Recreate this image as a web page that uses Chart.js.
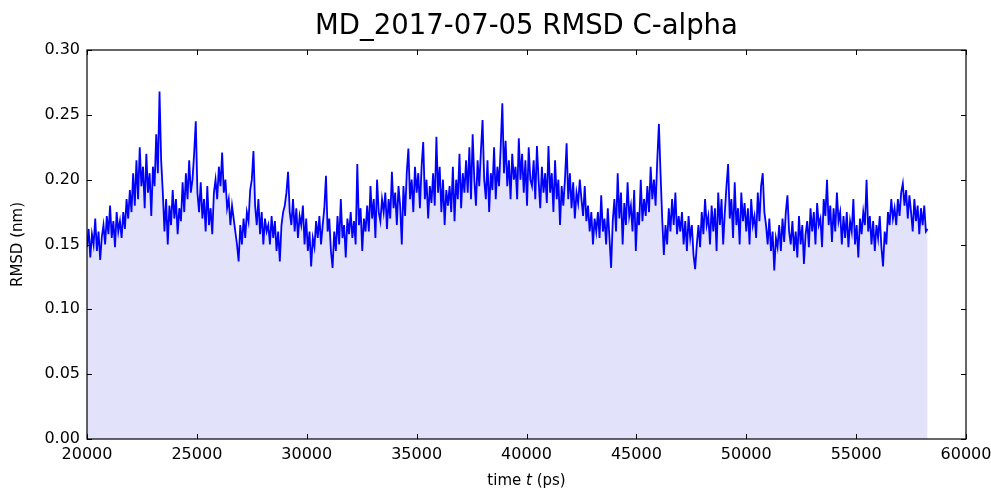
<!DOCTYPE html>
<html>
<head>
<meta charset="utf-8">
<script src="https://cdn.jsdelivr.net/npm/chart.js@4/dist/chart.umd.min.js"></script>
<style>
  html, body { margin: 0; padding: 0; background: #fff; }
  #wrap { width: 991px; height: 489px; }
</style>
</head>
<body>
<div id="wrap"><canvas id="rmsd"></canvas></div>
<script>
// time (ps), one row = 750 ps
var times = [
  20000,20075,20150,20225,20300,20375,20450,20525,20600,20675,
  20750,20825,20900,20975,21050,21125,21200,21275,21350,21425,
  21500,21575,21650,21725,21800,21875,21950,22025,22100,22175,
  22250,22325,22400,22475,22550,22625,22700,22775,22850,22925,
  23000,23075,23150,23225,23300,23375,23450,23525,23600,23675,
  23750,23825,23900,23975,24050,24125,24200,24275,24350,24425,
  24500,24575,24650,24725,24800,24875,24950,25025,25100,25175,
  25250,25325,25400,25475,25550,25625,25700,25775,25850,25925,
  26000,26075,26150,26225,26300,26375,26450,26525,26600,26675,
  26750,26825,26900,26975,27050,27125,27200,27275,27350,27425,
  27500,27575,27650,27725,27800,27875,27950,28025,28100,28175,
  28250,28325,28400,28475,28550,28625,28700,28775,28850,28925,
  29000,29075,29150,29225,29300,29375,29450,29525,29600,29675,
  29750,29825,29900,29975,30050,30125,30200,30275,30350,30425,
  30500,30575,30650,30725,30800,30875,30950,31025,31100,31175,
  31250,31325,31400,31475,31550,31625,31700,31775,31850,31925,
  32000,32075,32150,32225,32300,32375,32450,32525,32600,32675,
  32750,32825,32900,32975,33050,33125,33200,33275,33350,33425,
  33500,33575,33650,33725,33800,33875,33950,34025,34100,34175,
  34250,34325,34400,34475,34550,34625,34700,34775,34850,34925,
  35000,35075,35150,35225,35300,35375,35450,35525,35600,35675,
  35750,35825,35900,35975,36050,36125,36200,36275,36350,36425,
  36500,36575,36650,36725,36800,36875,36950,37025,37100,37175,
  37250,37325,37400,37475,37550,37625,37700,37775,37850,37925,
  38000,38075,38150,38225,38300,38375,38450,38525,38600,38675,
  38750,38825,38900,38975,39050,39125,39200,39275,39350,39425,
  39500,39575,39650,39725,39800,39875,39950,40025,40100,40175,
  40250,40325,40400,40475,40550,40625,40700,40775,40850,40925,
  41000,41075,41150,41225,41300,41375,41450,41525,41600,41675,
  41750,41825,41900,41975,42050,42125,42200,42275,42350,42425,
  42500,42575,42650,42725,42800,42875,42950,43025,43100,43175,
  43250,43325,43400,43475,43550,43625,43700,43775,43850,43925,
  44000,44075,44150,44225,44300,44375,44450,44525,44600,44675,
  44750,44825,44900,44975,45050,45125,45200,45275,45350,45425,
  45500,45575,45650,45725,45800,45875,45950,46025,46100,46175,
  46250,46325,46400,46475,46550,46625,46700,46775,46850,46925,
  47000,47075,47150,47225,47300,47375,47450,47525,47600,47675,
  47750,47825,47900,47975,48050,48125,48200,48275,48350,48425,
  48500,48575,48650,48725,48800,48875,48950,49025,49100,49175,
  49250,49325,49400,49475,49550,49625,49700,49775,49850,49925,
  50000,50075,50150,50225,50300,50375,50450,50525,50600,50675,
  50750,50825,50900,50975,51050,51125,51200,51275,51350,51425,
  51500,51575,51650,51725,51800,51875,51950,52025,52100,52175,
  52250,52325,52400,52475,52550,52625,52700,52775,52850,52925,
  53000,53075,53150,53225,53300,53375,53450,53525,53600,53675,
  53750,53825,53900,53975,54050,54125,54200,54275,54350,54425,
  54500,54575,54650,54725,54800,54875,54950,55025,55100,55175,
  55250,55325,55400,55475,55550,55625,55700,55775,55850,55925,
  56000,56075,56150,56225,56300,56375,56450,56525,56600,56675,
  56750,56825,56900,56975,57050,57125,57200,57275,57350,57425,
  57500,57575,57650,57725,57800,57875,57950,58025,58100,58175,
  58250
];

// RMSD C-alpha (nm)
var rmsd = [
  0.148,0.162,0.140,0.158,0.150,0.170,0.145,0.160,0.138,0.156,
  0.165,0.150,0.172,0.158,0.180,0.155,0.168,0.148,0.175,0.160,
  0.168,0.155,0.175,0.162,0.185,0.170,0.192,0.175,0.205,0.180,
  0.215,0.185,0.225,0.195,0.210,0.178,0.220,0.190,0.205,0.172,
  0.210,0.195,0.235,0.205,0.268,0.215,0.190,0.160,0.185,0.150,
  0.180,0.165,0.192,0.170,0.185,0.158,0.178,0.168,0.198,0.175,
  0.205,0.185,0.215,0.190,0.200,0.220,0.245,0.190,0.175,0.198,
  0.170,0.185,0.160,0.195,0.165,0.178,0.158,0.190,0.200,0.185,
  0.210,0.195,0.221,0.190,0.200,0.178,0.185,0.165,0.180,0.170,
  0.160,0.150,0.137,0.165,0.150,0.170,0.155,0.175,0.168,0.192,
  0.200,0.222,0.180,0.165,0.185,0.158,0.175,0.150,0.170,0.160,
  0.165,0.150,0.172,0.155,0.168,0.145,0.160,0.137,0.165,0.175,
  0.180,0.190,0.206,0.175,0.165,0.185,0.160,0.178,0.155,0.172,
  0.165,0.180,0.150,0.170,0.145,0.160,0.133,0.155,0.148,0.168,
  0.155,0.172,0.150,0.165,0.178,0.203,0.160,0.170,0.145,0.132,
  0.160,0.145,0.172,0.150,0.185,0.155,0.165,0.140,0.170,0.158,
  0.175,0.155,0.168,0.150,0.212,0.165,0.178,0.145,0.170,0.160,
  0.180,0.160,0.195,0.170,0.185,0.155,0.200,0.175,0.168,0.185,
  0.175,0.190,0.162,0.185,0.170,0.206,0.178,0.190,0.165,0.195,
  0.180,0.150,0.195,0.172,0.205,0.224,0.185,0.200,0.175,0.210,
  0.190,0.205,0.178,0.210,0.229,0.185,0.200,0.170,0.195,0.182,
  0.205,0.180,0.233,0.190,0.210,0.175,0.200,0.165,0.192,0.180,
  0.195,0.175,0.210,0.168,0.200,0.185,0.220,0.178,0.205,0.190,
  0.215,0.190,0.225,0.185,0.235,0.200,0.180,0.215,0.195,0.222,
  0.246,0.200,0.185,0.215,0.175,0.205,0.192,0.225,0.185,0.210,
  0.195,0.225,0.259,0.205,0.230,0.195,0.215,0.185,0.220,0.200,
  0.210,0.185,0.232,0.200,0.220,0.190,0.215,0.180,0.225,0.200,
  0.195,0.215,0.185,0.226,0.200,0.178,0.210,0.190,0.205,0.182,
  0.226,0.190,0.205,0.175,0.215,0.185,0.200,0.165,0.195,0.180,
  0.200,0.228,0.185,0.205,0.178,0.198,0.170,0.190,0.182,0.200,
  0.185,0.172,0.195,0.168,0.180,0.160,0.175,0.150,0.170,0.160,
  0.175,0.155,0.188,0.160,0.170,0.150,0.178,0.155,0.132,0.168,
  0.185,0.160,0.205,0.170,0.190,0.150,0.182,0.165,0.198,0.172,
  0.180,0.160,0.192,0.145,0.175,0.165,0.200,0.168,0.185,0.172,
  0.195,0.175,0.210,0.185,0.200,0.180,0.215,0.243,0.205,0.170,
  0.142,0.165,0.150,0.178,0.160,0.185,0.165,0.190,0.158,0.172,
  0.160,0.175,0.150,0.168,0.145,0.172,0.155,0.165,0.142,0.131,
  0.150,0.165,0.148,0.175,0.158,0.185,0.165,0.172,0.150,0.180,
  0.160,0.178,0.145,0.190,0.165,0.185,0.150,0.175,0.195,0.212,
  0.170,0.185,0.155,0.198,0.165,0.178,0.150,0.190,0.168,0.182,
  0.160,0.178,0.150,0.185,0.165,0.172,0.155,0.190,0.168,0.195,
  0.205,0.175,0.165,0.150,0.170,0.145,0.160,0.130,0.155,0.148,
  0.165,0.145,0.170,0.152,0.175,0.188,0.160,0.150,0.168,0.145,
  0.160,0.140,0.172,0.150,0.165,0.135,0.158,0.168,0.148,0.178,
  0.160,0.175,0.150,0.182,0.165,0.170,0.148,0.185,0.172,0.200,
  0.165,0.180,0.152,0.178,0.160,0.190,0.168,0.175,0.150,0.172,
  0.155,0.175,0.148,0.168,0.160,0.185,0.150,0.165,0.140,0.170,
  0.158,0.175,0.165,0.200,0.160,0.172,0.150,0.168,0.145,0.165,
  0.155,0.172,0.148,0.133,0.160,0.150,0.175,0.165,0.185,0.170,
  0.178,0.165,0.185,0.172,0.190,0.197,0.180,0.192,0.170,0.188,
  0.175,0.160,0.185,0.168,0.180,0.158,0.178,0.165,0.180,0.160,
  0.162
];

var xTicks = [20000, 25000, 30000, 35000, 40000, 45000, 50000, 55000, 60000];
var yTicks = [0.00, 0.05, 0.10, 0.15, 0.20, 0.25, 0.30];

var points = times.map(function (t, i) { return { x: t, y: rmsd[i] }; });

// matplotlib-like frame with inward ticks + x label with italic t
var framePlugin = {
  id: 'frame',
  afterDraw: function (chart) {
    var ctx = chart.ctx;
    var a = chart.chartArea;
    var xs = chart.scales.x, ys = chart.scales.y;
    ctx.save();
    ctx.strokeStyle = '#000';
    ctx.lineWidth = 1;
    ctx.beginPath();
    xTicks.forEach(function (v) {
      var px = Math.round(xs.getPixelForValue(v)) + 0.5;
      ctx.moveTo(px, a.bottom); ctx.lineTo(px, a.bottom - 5);
      ctx.moveTo(px, a.top); ctx.lineTo(px, a.top + 5);
    });
    yTicks.forEach(function (v) {
      var py = Math.round(ys.getPixelForValue(v)) + 0.5;
      ctx.moveTo(a.left, py); ctx.lineTo(a.left + 5, py);
      ctx.moveTo(a.right, py); ctx.lineTo(a.right - 5, py);
    });
    ctx.stroke();
    ctx.lineWidth = 1.2;
    ctx.strokeRect(a.left, a.top, a.right - a.left, a.bottom - a.top);

    // x axis title
    var parts = [
      ['time ', '15px "DejaVu Sans"'],
      ['t', 'italic 15px "DejaVu Sans"'],
      [' (ps)', '15px "DejaVu Sans"']
    ];
    var total = 0;
    parts.forEach(function (p) { ctx.font = p[1]; total += ctx.measureText(p[0]).width; });
    var cx = (a.left + a.right) / 2 - total / 2;
    ctx.fillStyle = '#000';
    ctx.textBaseline = 'middle';
    ctx.textAlign = 'left';
    parts.forEach(function (p) {
      ctx.font = p[1];
      ctx.fillText(p[0], cx, 481);
      cx += ctx.measureText(p[0]).width;
    });
    ctx.restore();
  }
};

var ctx = document.getElementById('rmsd').getContext('2d');
var myChart = new Chart(ctx, {
  type: 'line',
  data: {
    datasets: [{
      label: 'RMSD',
      data: points,
      borderColor: '#0000ff',
      borderWidth: 1.8,
      backgroundColor: '#e2e2fa',
      fill: 'origin',
      pointRadius: 0,
      tension: 0
    }]
  },
  options: {
    responsive: true,
    maintainAspectRatio: false,
    animation: false,
    layout: { padding: { left: 0, right: 0, top: 0, bottom: 0 } },
    plugins: {
      legend: { display: false },
      tooltip: { enabled: false },
      title: {
        display: true,
        fullSize: false,
        text: 'MD_2017-07-05 RMSD C-alpha',
        color: '#000',
        font: { family: 'DejaVu Sans', size: 27.5, weight: 'normal' },
        padding: { top: 10, bottom: 7 }
      }
    },
    scales: {
      x: {
        type: 'linear',
        min: 20000,
        max: 60000,
        afterFit: function (scale) {
          scale.height = 50;
          scale.paddingRight = 25;
        },
        afterBuildTicks: function (scale) {
          scale.ticks = xTicks.map(function (v) { return { value: v }; });
        },
        ticks: {
          color: '#000',
          font: { family: 'DejaVu Sans', size: 16 },
          padding: 6,
          maxRotation: 0,
          callback: function (value) { return String(value); }
        },
        grid: { display: false, drawTicks: false },
        border: { display: false }
      },
      y: {
        min: 0,
        max: 0.3,
        afterFit: function (scale) { scale.width = 87; },
        afterBuildTicks: function (scale) {
          scale.ticks = yTicks.map(function (v) { return { value: v }; });
        },
        ticks: {
          color: '#000',
          font: { family: 'DejaVu Sans', size: 16 },
          padding: 7,
          callback: function (value) { return value.toFixed(2); }
        },
        grid: { display: false, drawTicks: false },
        border: { display: false },
        title: {
          display: true,
          text: 'RMSD (nm)',
          color: '#000',
          font: { family: 'DejaVu Sans', size: 15 },
          padding: { top: 9, bottom: 0 }
        }
      }
    }
  },
  plugins: [framePlugin]
});
</script>
</body>
</html>
